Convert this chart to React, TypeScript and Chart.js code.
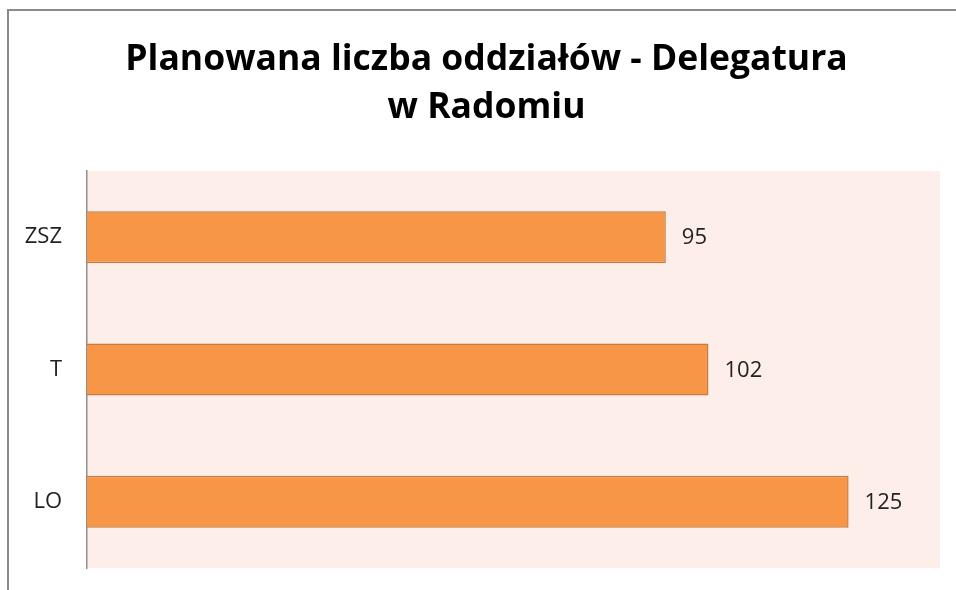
import React, { useEffect, useRef } from "react";
import { Chart, registerables } from "chart.js";

Chart.register(...registerables);

const categories = ["ZSZ", "T", "LO"];
const values = [95, 102, 125];
const titleLines = ["Planowana liczba oddziałów - Delegatura", "w Radomiu"];
const xMax = 140;

const frameAndBg = {
  id: "frameAndBg",
  afterLayout(chart: any) {
    // centre the title over the framed box (frame starts at x≈8, extends past right edge)
    if (chart.titleBlock) {
      chart.titleBlock.left = 33;
      chart.titleBlock.right = chart.width - 16;
    }
  },
  beforeDraw(chart: any) {
    const { ctx, chartArea } = chart;
    ctx.save();
    ctx.fillStyle = "#ffffff";
    ctx.fillRect(0, 0, chart.width, chart.height);
    ctx.strokeStyle = "#8a8a8a";
    ctx.lineWidth = 2;
    ctx.beginPath();
    ctx.moveTo(8, chart.height + 5);
    ctx.lineTo(8, 10);
    ctx.lineTo(chart.width + 5, 10);
    ctx.stroke();
    ctx.fillStyle = "#FDEEE9";
    ctx.fillRect(chartArea.left, chartArea.top, chartArea.right - chartArea.left, chartArea.bottom - chartArea.top);
    ctx.restore();
  },
};

const valueLabels = {
  id: "valueLabels",
  afterDatasetsDraw(chart: any) {
    const { ctx } = chart;
    const meta = chart.getDatasetMeta(0);
    ctx.save();
    ctx.font = '22px "Open Sans"';
    ctx.fillStyle = "#222222";
    ctx.textAlign = "left";
    ctx.textBaseline = "middle";
    meta.data.forEach((bar: any, i: number) => {
      const v = chart.data.datasets[0].data[i];
      ctx.fillText(String(v), bar.x + 16, bar.y + 1);
    });
    ctx.restore();
  },
};

export default function App() {
  const ref = useRef<HTMLCanvasElement | null>(null);
  useEffect(() => {
    document.body.style.margin = "0";
    const chart = new Chart(ref.current as HTMLCanvasElement, {
      type: "bar",
      data: {
        labels: categories,
        datasets: [
          {
            data: values,
            backgroundColor: "#F79646",
            borderColor: "#C97A3E",
            borderWidth: 1.5,
            borderSkipped: "start",
            barPercentage: 0.393,
            categoryPercentage: 1,
          },
        ],
      },
      options: {
        indexAxis: "y",
        animation: false,
        responsive: false,
        layout: { padding: { left: 0, right: 16, top: 0, bottom: 22 } },
        plugins: {
          legend: { display: false },
          tooltip: { enabled: false },
          title: {
            display: true,
            text: titleLines,
            color: "#000000",
            font: { family: "Open Sans", size: 35.5, weight: "bold", lineHeight: 48 / 35.5 },
            padding: { top: 36, bottom: 39 },
          },
        },
        scales: {
          x: { display: false, min: 0, max: xMax },
          y: {
            afterFit: (scale: any) => {
              scale.width = 87;
              scale.paddingTop = 0;
              scale.paddingBottom = 0;
            },
            grid: { display: false, drawTicks: false },
            border: { display: true, color: "#8f8f8f", width: 1.5 },
            ticks: {
              padding: 25,
              color: "#222222",
              font: { family: "Open Sans", size: 22 },
            },
          },
        },
      },
      plugins: [frameAndBg, valueLabels],
    });
    return () => chart.destroy();
  }, []);
  return <canvas ref={ref} width={956} height={590} style={{ display: "block" }} />;
}
